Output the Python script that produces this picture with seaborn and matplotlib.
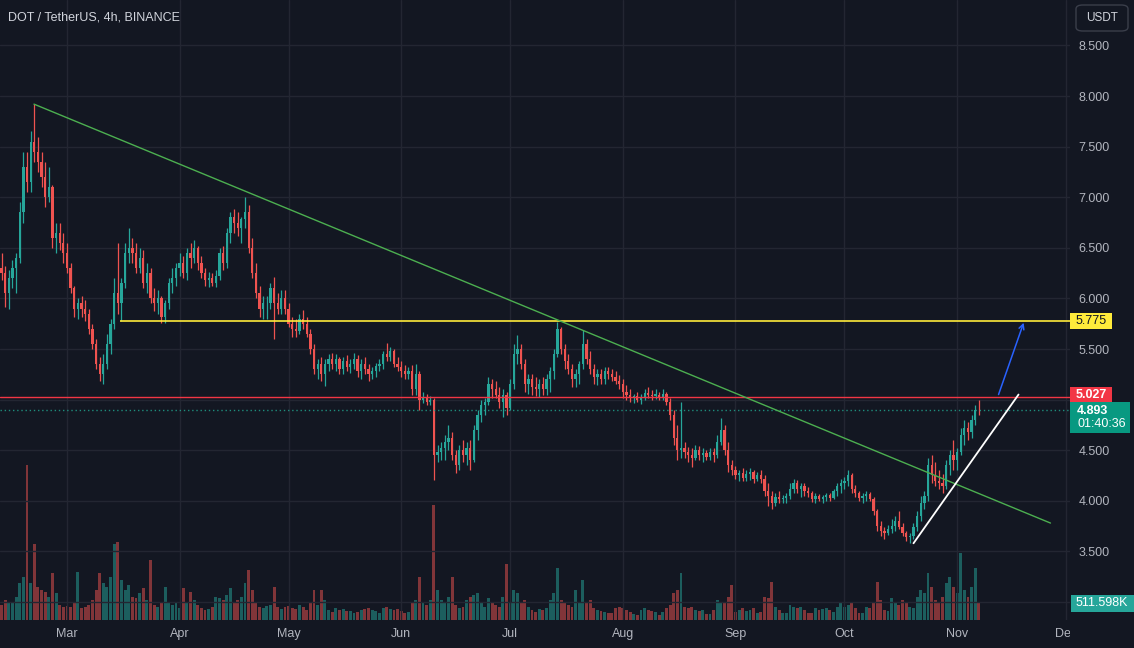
import numpy as np
import pandas as pd
import matplotlib
matplotlib.use("Agg")
import matplotlib.pyplot as plt
import matplotlib.dates as mdates
from matplotlib.patches import Rectangle, FancyBboxPatch
import seaborn as sns

# ---------------- data (daily OHLC, consecutive days from start_date) -------------
start_date = "2023-02-11"
opens = [
    6.30,6.25,6.05,6.20,6.30,6.40,6.85,7.30,7.15,7.55,7.45,7.35,7.20,7.00,7.10,6.60,6.65,6.55,
    6.45,6.30,6.10,5.90,5.95,5.90,5.85,5.70,5.55,5.35,5.25,5.35,5.55,5.75,6.05,5.95,6.15,6.45,6.50,6.45,6.30,6.40,6.15,6.25,6.00,5.95,6.00,5.82,5.95,6.15,6.20,
    6.30,6.35,6.25,6.45,6.40,6.50,6.35,6.25,6.18,6.20,6.15,6.22,6.45,6.35,6.65,6.80,6.75,6.70,6.78,6.85,6.50,6.25,6.05,5.90,5.95,5.95,6.10,5.95,5.90,
    6.00,5.90,5.75,5.70,5.68,5.80,5.75,5.65,5.50,5.30,5.35,5.25,5.35,5.40,5.35,5.40,5.30,5.38,5.32,5.35,5.40,5.28,5.35,5.30,5.25,5.28,5.33,5.35,5.45,5.42,5.48,
    5.35,5.32,5.28,5.25,5.28,5.10,5.25,5.00,5.03,4.98,5.00,4.45,4.48,4.52,4.58,4.62,4.45,4.35,4.50,4.45,4.52,4.40,4.70,4.85,4.95,4.98,5.15,5.10,5.05,4.98,
    5.05,4.92,5.15,5.45,5.50,5.35,5.15,5.20,5.12,5.10,5.15,5.10,5.20,5.28,5.45,5.70,5.50,5.38,5.30,5.20,5.25,5.35,5.55,5.40,5.30,5.22,5.25,5.20,5.28,5.25,5.22,
    5.18,5.15,5.08,5.05,5.02,5.04,5.00,5.03,5.07,5.05,5.04,5.05,5.03,5.06,4.98,4.85,4.62,4.50,4.52,4.48,4.45,4.42,4.50,4.45,4.47,4.43,4.48,4.45,4.58,4.70,
    4.50,4.35,4.30,4.25,4.27,4.23,4.26,4.28,4.22,4.25,4.22,4.10,4.05,3.98,4.04,4.02,4.03,4.05,4.12,4.18,4.12,4.15,4.10,4.08,4.02,4.05,4.02,4.04,4.06,4.03,
    4.10,4.15,4.18,4.20,4.25,4.12,4.08,4.03,4.05,4.07,4.02,3.90,3.75,3.70,3.68,3.72,3.75,3.80,3.74,3.68,3.64,3.65,3.74,3.85,3.98,4.05,4.35,4.25,4.20,4.18,4.15,
    4.35,4.45,4.40,4.48,4.65,4.72,4.68,4.80,4.90,
]
highs = [
    6.45,6.32,6.28,6.38,6.45,6.95,7.45,7.45,7.65,7.92,7.60,7.45,7.35,7.30,7.12,6.75,6.75,6.65,
    6.55,6.35,6.12,6.00,6.02,5.98,5.90,5.75,5.60,5.42,5.45,5.65,5.80,6.20,6.55,6.20,6.55,6.70,6.60,6.55,6.50,6.48,6.35,6.30,6.10,6.08,6.02,5.98,6.20,6.30,6.35,
    6.45,6.42,6.50,6.55,6.58,6.52,6.42,6.30,6.26,6.25,6.28,6.50,6.52,6.70,6.85,6.88,6.85,6.80,7.00,6.92,6.60,6.35,6.12,6.02,6.02,6.15,6.21,6.05,6.08,
    6.08,5.95,5.82,5.80,5.85,5.89,5.82,5.70,5.55,5.40,5.42,5.40,5.45,5.46,5.45,5.42,5.42,5.44,5.40,5.46,5.44,5.40,5.42,5.35,5.32,5.36,5.40,5.48,5.56,5.52,5.50,
    5.42,5.38,5.34,5.32,5.34,5.35,5.28,5.08,5.06,5.04,5.02,4.55,4.58,4.65,4.75,4.68,4.50,4.55,4.60,4.58,4.60,4.75,4.90,5.00,5.02,5.22,5.20,5.18,5.12,5.10,
    5.08,5.20,5.55,5.64,5.55,5.40,5.25,5.25,5.22,5.20,5.22,5.25,5.32,5.50,5.77,5.72,5.55,5.45,5.35,5.30,5.38,5.69,5.60,5.48,5.35,5.30,5.30,5.32,5.32,5.30,5.28,
    5.24,5.20,5.14,5.10,5.06,5.08,5.06,5.10,5.12,5.09,5.10,5.08,5.10,5.08,5.02,4.90,4.75,4.98,4.58,4.53,4.52,4.55,4.54,4.52,4.50,4.52,4.52,4.65,4.82,4.75,
    4.58,4.40,4.34,4.30,4.32,4.30,4.32,4.30,4.28,4.30,4.25,4.18,4.10,4.08,4.10,4.06,4.08,4.18,4.22,4.21,4.18,4.18,4.14,4.10,4.08,4.07,4.06,4.08,4.08,4.12,
    4.18,4.22,4.24,4.30,4.27,4.16,4.10,4.08,4.10,4.09,4.04,3.92,3.80,3.74,3.76,3.82,3.85,3.90,3.78,3.70,3.68,3.78,3.90,4.05,4.10,4.42,4.45,4.38,4.30,4.26,4.40,
    4.50,4.60,4.52,4.72,4.80,4.78,4.85,4.95,5.00,
]
lows = [
    6.18,5.92,5.90,6.10,6.05,6.35,6.75,7.05,7.05,7.35,7.25,7.10,6.90,6.95,6.50,6.45,6.48,6.35,
    6.25,6.05,5.82,5.80,5.82,5.78,5.65,5.50,5.30,5.18,5.15,5.30,5.45,5.70,5.85,5.78,6.10,6.35,6.35,6.25,6.25,6.10,6.05,5.95,5.88,5.85,5.76,5.76,5.90,6.05,6.12,
    6.22,6.20,6.18,6.30,6.35,6.28,6.20,6.12,6.11,6.12,6.11,6.18,6.28,6.30,6.55,6.65,6.62,6.55,6.70,6.45,6.20,6.00,5.82,5.80,5.80,5.90,5.60,5.85,5.85,
    5.85,5.72,5.62,5.62,5.65,5.70,5.62,5.45,5.25,5.20,5.18,5.13,5.28,5.30,5.28,5.25,5.25,5.28,5.26,5.30,5.22,5.20,5.25,5.18,5.20,5.22,5.28,5.30,5.38,5.38,5.32,
    5.28,5.22,5.20,5.20,5.05,5.05,4.90,4.97,4.95,4.95,4.21,4.38,4.40,4.40,4.50,4.40,4.27,4.30,4.38,4.35,4.30,4.38,4.60,4.78,4.85,4.95,5.02,5.02,4.92,4.83,
    4.85,4.90,5.10,5.35,5.30,5.08,5.06,5.05,5.04,5.03,5.05,5.05,5.08,5.20,5.42,5.45,5.30,5.25,5.12,5.12,5.15,5.30,5.35,5.25,5.15,5.14,5.15,5.15,5.20,5.18,5.15,
    5.10,5.02,5.00,4.98,4.97,4.98,4.96,5.00,5.02,5.00,5.01,5.00,5.00,4.95,4.80,4.55,4.40,4.42,4.42,4.38,4.33,4.40,4.40,4.38,4.40,4.40,4.38,4.42,4.55,4.45,
    4.28,4.25,4.22,4.20,4.20,4.20,4.21,4.18,4.20,4.18,4.05,3.95,3.92,3.95,3.98,3.98,3.98,4.02,4.08,4.08,4.04,4.05,4.04,3.99,3.98,4.00,3.98,4.00,4.00,4.02,
    4.05,4.08,4.12,4.15,4.08,4.04,4.00,3.98,4.00,4.00,3.86,3.70,3.65,3.62,3.66,3.68,3.70,3.72,3.65,3.60,3.58,3.62,3.70,3.80,3.92,4.00,4.18,4.15,4.12,4.08,4.12,
    4.25,4.30,4.30,4.45,4.55,4.60,4.62,4.75,4.85,
]
closes = [
    6.25,6.05,6.20,6.30,6.40,6.85,7.30,7.15,7.55,7.45,7.35,7.20,7.00,7.10,6.60,6.65,6.55,6.45,
    6.30,6.10,5.90,5.95,5.90,5.85,5.70,5.55,5.35,5.25,5.35,5.55,5.75,6.05,5.95,6.15,6.45,6.50,6.45,6.30,6.40,6.15,6.25,6.00,5.95,6.00,5.82,5.95,6.15,6.20,6.30,
    6.35,6.25,6.45,6.40,6.50,6.35,6.25,6.18,6.20,6.15,6.22,6.45,6.35,6.65,6.80,6.75,6.70,6.78,6.85,6.50,6.25,6.05,5.90,5.95,5.95,6.10,5.95,5.90,6.00,
    5.90,5.75,5.70,5.68,5.80,5.75,5.65,5.50,5.30,5.35,5.25,5.35,5.40,5.35,5.40,5.30,5.38,5.32,5.35,5.40,5.28,5.35,5.30,5.25,5.28,5.33,5.35,5.45,5.42,5.48,5.35,
    5.32,5.28,5.25,5.28,5.10,5.25,5.00,5.03,4.98,5.00,4.45,4.48,4.52,4.58,4.62,4.45,4.35,4.50,4.45,4.52,4.40,4.70,4.85,4.95,4.98,5.15,5.10,5.05,4.98,5.05,
    4.92,5.15,5.45,5.50,5.35,5.15,5.20,5.12,5.10,5.15,5.10,5.20,5.28,5.45,5.70,5.50,5.38,5.30,5.20,5.25,5.35,5.55,5.40,5.30,5.22,5.25,5.20,5.28,5.25,5.22,5.18,
    5.15,5.08,5.05,5.02,5.04,5.00,5.03,5.07,5.05,5.04,5.06,5.03,5.06,4.98,4.85,4.62,4.50,4.52,4.48,4.45,4.42,4.50,4.45,4.47,4.43,4.48,4.45,4.58,4.70,4.50,
    4.35,4.30,4.25,4.27,4.23,4.26,4.28,4.22,4.25,4.22,4.10,4.05,3.98,4.04,4.02,4.03,4.05,4.12,4.18,4.12,4.15,4.10,4.08,4.02,4.05,4.02,4.04,4.06,4.03,4.10,
    4.15,4.18,4.20,4.25,4.12,4.08,4.03,4.05,4.07,4.02,3.90,3.75,3.70,3.68,3.72,3.75,3.80,3.74,3.68,3.64,3.65,3.74,3.85,3.98,4.05,4.35,4.25,4.20,4.18,4.15,4.35,
    4.45,4.40,4.48,4.65,4.72,4.68,4.80,4.90,4.893,
]
volume_k = [
    450,600,500,550,700,1100,1300,4660,1100,2300,1000,900,850,700,1400,800,450,400,
    420,380,500,1450,350,380,450,600,900,1400,1100,1000,1300,2300,2350,1200,900,1050,700,650,800,950,600,1800,450,400,550,1000,550,450,500,
    350,950,500,850,600,450,350,300,320,400,700,650,600,750,950,500,600,700,1100,1500,900,500,400,350,420,450,1000,400,330,
    380,420,350,320,450,380,300,500,900,450,900,600,300,250,350,300,320,280,260,220,240,300,320,350,300,280,200,350,400,330,300,
    320,280,220,240,550,600,1300,500,450,600,3460,900,600,550,700,1300,450,350,400,600,700,750,800,500,400,650,500,450,400,700,
    1700,500,900,800,550,600,400,300,250,320,300,350,600,800,1560,600,500,450,400,900,500,1200,550,600,350,300,280,250,200,220,350,
    400,350,300,250,180,160,300,350,300,280,250,140,250,350,450,800,900,1400,400,350,380,300,280,300,180,170,300,600,500,550,
    700,1050,250,300,350,280,300,350,200,250,700,650,1140,400,300,200,220,450,400,350,400,300,200,220,350,300,320,350,300,250,
    400,550,400,450,550,350,200,220,400,350,500,1140,600,300,280,650,500,450,600,550,400,350,700,900,800,1400,1000,600,500,700,1100,
    1300,1000,800,2020,900,700,1000,1560,511.598,
]

price_ticks = [3.0, 3.5, 4.0, 4.5, 5.0, 5.5, 6.0, 6.5, 7.0, 7.5, 8.0, 8.5]
hidden_ticks = [3.0, 5.0]          # covered by the volume / 5.027 labels in the reference
month_ticks = ["2023-03-01", "2023-04-01", "2023-05-01", "2023-06-01", "2023-07-01",
               "2023-08-01", "2023-09-01", "2023-10-01", "2023-11-01", "2023-12-01"]
month_labels = ["Mar", "Apr", "May", "Jun", "Jul", "Aug", "Sep", "Oct", "Nov", "Dec"]

# drawn lines
green_trend_t = ["2023-02-19 22:00", "2023-11-26 17:00"]
green_trend_p = [7.92, 3.78]
white_trend_t = ["2023-10-20 00:00", "2023-11-17 22:00"]
white_trend_p = [3.58, 5.05]
arrow_t = ["2023-11-12 10:00", "2023-11-19 08:00"]
arrow_p = [5.05, 5.76]
yellow_level = 5.775
yellow_start = "2023-03-15 14:00"
red_level = 5.027
last_price = 4.893
countdown = "01:40:36"
last_volume_label = "511.598K"
title = "DOT / TetherUS, 4h, BINANCE"
currency = "USDT"
x_range = ["2023-02-10 13:30", "2023-12-02 02:00"]
y_range = [2.822, 8.949]

n = len(closes)
assert len(opens) == n and len(highs) == n and len(lows) == n and len(volume_k) == n

# ---------------- style ----------------
BG = "#131722"
GRID = "#232632"
TXT = "#b2b5be"
UP = "#26a69a"
DOWN = "#ef5350"
sns.set_theme(style="dark", rc={
    "axes.facecolor": BG, "figure.facecolor": BG, "savefig.facecolor": BG,
    "axes.edgecolor": BG, "grid.color": GRID, "text.color": TXT,
    "xtick.color": TXT, "ytick.color": TXT,
})
plt.rcParams["font.family"] = ["Liberation Sans", "DejaVu Sans"]

W, H = 1134, 648
XR = 1070  # right edge of the plotting area (px)
fig = plt.figure(figsize=(W / 100, H / 100), dpi=100)
rect = [0, 28 / H, XR / W, 620 / H]
axv = fig.add_axes(rect)
ax = fig.add_axes(rect, sharex=axv)
axv.set_zorder(0)
ax.set_zorder(1)
ax.patch.set_visible(False)

dates = pd.date_range(start_date, periods=n, freq="D")
t = mdates.date2num(dates)
o = np.array(opens); h = np.array(highs); l = np.array(lows); c = np.array(closes)
is_up = c >= o
cols = np.where(is_up, UP, DOWN)

# volume (seaborn bars on a native numeric time scale)
vol_df = pd.DataFrame({"t": t, "v": volume_k, "dir": np.where(is_up, "up", "down")})
sns.barplot(data=vol_df, x="t", y="v", hue="dir", palette={"up": UP, "down": DOWN},
            native_scale=True, dodge=False, legend=False, errorbar=None,
            width=0.8, saturation=1, alpha=0.5, linewidth=0, ax=axv)
axv.set_ylim(0, 620 * 30.1)
axv.set_xlabel(""); axv.set_ylabel("")
axv.tick_params(left=False, bottom=False, labelleft=False, labelbottom=False)
axv.grid(False)
for s in axv.spines.values():
    s.set_visible(False)

# candles
ax.vlines(t, l, h, colors=cols, lw=0.9, zorder=3)
ax.bar(t, np.maximum(np.abs(c - o), 0.008), bottom=np.minimum(o, c), width=0.62,
       color=cols, linewidth=0, zorder=4)

xr = mdates.date2num(pd.to_datetime(x_range))

# levels
ax.axhline(red_level, color="#f23645", lw=1, zorder=5)
ax.axhline(last_price, color="#22ab94", lw=1, ls=(0, (1, 2)), zorder=5, alpha=0.8)
ys = mdates.date2num(pd.Timestamp(yellow_start))
ax.hlines(yellow_level, ys, xr[1], color="#ffeb3b", lw=1.2, zorder=5)

# trend lines
sns.lineplot(x=mdates.date2num(pd.to_datetime(green_trend_t)), y=green_trend_p,
             color="#4caf50", lw=1, ax=ax, zorder=6)
sns.lineplot(x=mdates.date2num(pd.to_datetime(white_trend_t)), y=white_trend_p,
             color="#ffffff", lw=1.3, ax=ax, zorder=6)
at = mdates.date2num(pd.to_datetime(arrow_t))
ax.annotate("", xy=(at[1], arrow_p[1]), xytext=(at[0], arrow_p[0]),
            arrowprops=dict(arrowstyle="->", color="#2962ff", lw=1.1, mutation_scale=9,
                            shrinkA=0, shrinkB=0), zorder=6)
ax.set_xlim(xr[0], xr[1])
ax.set_ylim(*y_range)

# axes ticks
ax.yaxis.tick_right()
ax.set_yticks(price_ticks)
ax.set_yticklabels(["" if p in hidden_ticks else f"{p:.3f}" for p in price_ticks])
ax.set_xticks(mdates.date2num(pd.to_datetime(month_ticks)))
ax.set_xticklabels(month_labels)
ax.tick_params(axis="y", length=0, pad=6, labelsize=9, colors=TXT)
ax.tick_params(axis="x", length=0, pad=6, labelsize=9, colors=TXT)
ax.grid(True, color=GRID, lw=1, zorder=0)
ax.set_xlabel(""); ax.set_ylabel("")
for s in ax.spines.values():
    s.set_visible(False)

# the price scale clips the time-axis label under it
fig.patches.append(Rectangle((XR / W, 0), 1 - XR / W, 28 / H, transform=fig.transFigure,
                             fc=BG, ec="none", zorder=10))

def ypix(axis, price):
    return axis.transData.transform((xr[0], price))[1]

def box(x0, x1, yc, hgt, fc):
    fig.patches.append(Rectangle((x0 / W, (yc - hgt / 2) / H), (x1 - x0) / W, hgt / H,
                                 transform=fig.transFigure, fc=fc, ec="none", zorder=11))

# yellow level label
yy = ypix(ax, yellow_level)
box(XR, 1112, yy, 16, "#ffeb3b")
fig.text(1091 / W, yy / H, f"{yellow_level:.3f}", color="#131722", fontsize=9,
         ha="center", va="center", zorder=12)
# red level label
yr_ = ypix(ax, red_level)
box(XR, 1112, yr_ + 2, 16, "#f23645")
fig.text(1091 / W, (yr_ + 2) / H, f"{red_level:.3f}", color="white", fontsize=9,
         ha="center", va="center", zorder=12, fontweight="bold")
# last price + countdown
yl = ypix(ax, last_price)
fig.patches.append(Rectangle((XR / W, (yl - 23) / H), 60 / W, 31 / H,
                             transform=fig.transFigure, fc="#089981", ec="none", zorder=11))
fig.text(1077 / W, (yl - 1) / H, f"{last_price:.3f}", color="white", fontsize=9,
         ha="left", va="center", zorder=12, fontweight="bold")
fig.text(1077 / W, (yl - 14) / H, countdown, color="white", fontsize=9,
         ha="left", va="center", zorder=12)
# last volume
yv = axv.transData.transform((xr[0], volume_k[-1]))[1]
box(1071, 1134, yv, 17, "#26a69a")
fig.text(1102 / W, yv / H, last_volume_label, color="white", fontsize=9,
         ha="center", va="center", zorder=12)

# currency button
fig.patches.append(FancyBboxPatch((1076 / W, 1 - 31 / H), 52 / W, 26 / H,
                                  boxstyle="round,pad=0,rounding_size=0.006",
                                  transform=fig.transFigure, fc=BG, ec="#3a3e4a",
                                  lw=1, zorder=11))
fig.text(1102 / W, 1 - 18 / H, currency, color="#d1d4dc", fontsize=8.5,
         ha="center", va="center", zorder=12)

# title
fig.text(8 / W, 1 - 17 / H, title, color="#d1d4dc", fontsize=9, ha="left", va="center")

fig.savefig("out.png", dpi=100, facecolor=BG)
